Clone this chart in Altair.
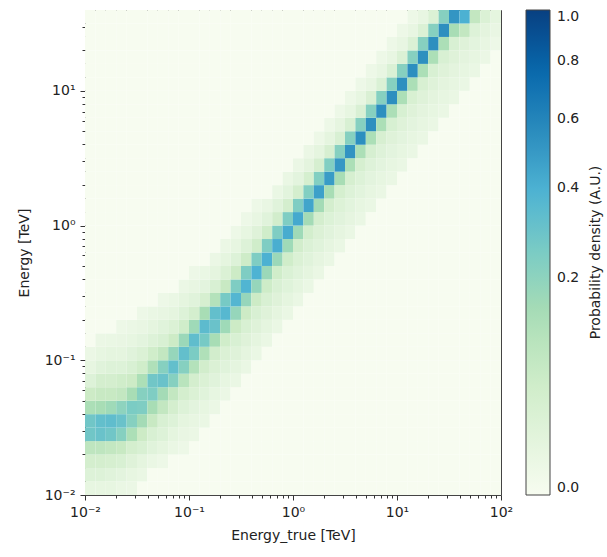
import altair as alt
import numpy as np
import pandas as pd

# ---------------- data ----------------
# bin edges (TeV): true energy 0.01-100 TeV, reco energy 0.01-39.8 TeV, 10 bins / decade
energy_true_edges = np.logspace(-2, 2, 41)
energy_edges = np.logspace(-2, 1.6, 37)

# per true-energy bin: index of first non-empty reco bin, then probabilities (%) of consecutive reco bins
col_start = [0, 0, 0, 0, 0, 1, 2, 2, 3, 3,
             4, 5, 6, 7, 8, 9, 10, 11, 12, 13,
             14, 15, 16, 17, 18, 19, 20, 21, 22, 23,
             24, 25, 26, 27, 28, 29, 30, 31, 32, 33]
col_values = [
    [0.8, 2, 4, 9, 28, 28, 13, 6, 2, 0.8, 0.4],
    [0.8, 2, 4, 9, 30, 32, 14, 7, 4, 1.5, 0.8, 0.4],
    [0.8, 1.5, 3.5, 8, 28, 33, 16, 7, 4, 2, 1, 0.5],
    [0.5, 1.2, 3, 7, 22, 30, 20, 8, 5, 2, 1, 0.6, 0.3],
    [0.4, 0.8, 1.8, 4, 13, 22, 25, 14, 6, 3, 1.5, 0.8, 0.4],
    [0.5, 1, 3, 6, 15, 24, 22, 13, 5, 2.5, 1.2, 0.6, 0.3],
    [0.5, 1.5, 3, 7, 14, 24, 28, 12, 5, 2, 1, 0.5],
    [0.3, 1, 2, 3, 8, 15, 30, 22, 8, 3, 1.5, 0.7, 0.3],
    [0.5, 1, 2, 4, 8, 22, 32, 18, 6, 2.5, 1, 0.5],
    [0.3, 0.6, 1, 2, 4, 10, 22, 32, 17, 5, 2, 1, 0.4],
    [0.4, 0.7, 1.2, 2.5, 4, 11, 25, 33, 16, 4, 1.5, 0.7, 0.3],
    [0.5, 0.8, 1.5, 2.5, 4.5, 12, 26, 34, 14, 3.5, 1.2, 0.5],
    [0.4, 0.8, 1.5, 2.5, 4.5, 14, 30, 32, 11, 3, 1, 0.4],
    [0.4, 0.8, 1.5, 2.5, 5, 16, 36, 26, 7, 2.5, 1, 0.4],
    [0.5, 1, 1.8, 3, 6, 18, 37, 24, 6, 2, 0.8, 0.3],
    [0.5, 1, 1.8, 3, 6, 18, 38, 24, 5.5, 2, 0.8, 0.3],
    [0.5, 1, 1.8, 3, 6, 18, 39, 24, 5, 1.8, 0.7, 0.3],
    [0.5, 1, 1.8, 3, 5.5, 17, 40, 24, 5, 1.6, 0.6],
    [0.5, 1, 1.8, 2.8, 5, 17, 41, 24, 4.5, 1.5, 0.5],
    [0.5, 1, 1.7, 2.6, 5, 16, 42, 24, 4, 1.3, 0.5],
    [0.5, 1, 1.6, 2.5, 4.5, 16, 43, 24, 4, 1.2, 0.4],
    [0.5, 1, 1.5, 2.4, 4.3, 15, 45, 23, 3.7, 1.1, 0.4],
    [0.5, 0.9, 1.5, 2.3, 4, 15, 47, 23, 3.5, 1, 0.3],
    [0.5, 0.9, 1.4, 2.2, 4, 14, 49, 23, 3.3, 1, 0.3],
    [0.5, 0.9, 1.4, 2.1, 3.8, 14, 51, 22, 3, 0.9, 0.3],
    [0.5, 0.9, 1.3, 2, 3.6, 13, 53, 22, 3, 0.8, 0.3],
    [0.5, 0.8, 1.3, 2, 3.5, 13, 55, 22, 2.8, 0.8, 0.3],
    [0.5, 0.8, 1.2, 1.9, 3.4, 13, 55, 22, 2.7, 0.7, 0.3],
    [0.5, 0.8, 1.2, 1.9, 3.3, 13, 55, 22, 2.6, 0.7, 0.3],
    [0.5, 0.8, 1.2, 1.8, 3.2, 13, 55, 22, 2.6, 0.7, 0.3],
    [0.5, 0.8, 1.2, 1.8, 3.2, 13, 55, 22, 2.5, 0.7, 0.3],
    [0.5, 0.8, 1.2, 1.8, 3.1, 13, 55, 22, 2.5, 0.7, 0.3],
    [0.5, 0.8, 1.1, 1.8, 3.1, 13, 55, 22, 2.5, 0.7],
    [0.5, 0.8, 1.1, 1.8, 3, 13, 55, 22, 2.5],
    [0.5, 0.8, 1.1, 1.8, 3, 13, 55, 22],
    [0.5, 0.8, 1.1, 1.8, 3, 14, 52],
    [0.5, 0.8, 1.1, 1.8, 8, 40],
    [0.5, 0.8, 1.2, 2, 8],
    [0.4, 0.7, 1.1, 2.5],
    [0.3, 0.6, 1],
]

x_ticks = [round(m * d, 6) for d in [0.01, 0.1, 1, 10] for m in range(1, 10)] + [100]
y_ticks = [round(m * d, 6) for d in [0.01, 0.1, 1] for m in range(1, 10)] + [10, 20, 30]
cbar_ticks = [0.0, 0.2, 0.4, 0.6, 0.8, 1.0]
x_title = "Energy_true [TeV]"
y_title = "Energy [TeV]"
cbar_title = "Probability density (A.U.)"

# ---------------- table ----------------
rows = []
for i in range(len(energy_true_edges) - 1):
    for j in range(len(energy_edges) - 1):
        k = j - col_start[i]
        v = col_values[i][k] / 100.0 if 0 <= k < len(col_values[i]) else 0.0
        rows.append({"x0": energy_true_edges[i], "x1": energy_true_edges[i + 1],
                     "y0": energy_edges[j], "y1": energy_edges[j + 1], "v": v})
df = pd.DataFrame(rows)

# ---------------- styling ----------------
FONT = "DejaVu Sans"
GNBU = ["#f7fcf0", "#e0f3db", "#ccebc5", "#a8ddb5", "#7bccc4",
        "#4eb3d3", "#2b8cbe", "#0868ac", "#084081"]
gnbu_domain = [(k / 8.0) ** 2 for k in range(9)]   # PowerNorm(gamma=0.5)
cscale = alt.Scale(type="sqrt", domain=gnbu_domain, range=GNBU, interpolate="rgb")

label_expr = ("datum.value === 0.01 ? '10⁻²' : datum.value === 0.1 ? '10⁻¹' : "
              "datum.value === 1 ? '10⁰' : datum.value === 10 ? '10¹' : "
              "datum.value === 100 ? '10²' : ''")
major_test = "indexof([0.01, 0.1, 1, 10, 100], datum.value) >= 0"
tick_size = {"condition": {"test": major_test, "value": 5}, "value": 3}

xaxis = alt.Axis(values=x_ticks, labelExpr=label_expr, tickSize=tick_size,
                 labelOverlap=False, labelFlush=False, title=x_title,
                 labelPadding=5, titlePadding=9, grid=False, domain=False)
yaxis = alt.Axis(values=y_ticks, labelExpr=label_expr, tickSize=tick_size,
                 labelOverlap=False, labelFlush=False, title=y_title,
                 labelPadding=5, titlePadding=13, grid=False, domain=False)

legend = alt.Legend(type="gradient", orient="none", legendX=441, legendY=0,
                    direction="vertical", gradientLength=485, gradientThickness=24,
                    values=cbar_ticks, format=".1f", labelFont=FONT, labelFontSize=14,
                    labelColor="#222", labelOffset=7, labelBaseline="middle",
                    labelOverlap=False, gradientStrokeColor="#444",
                    gradientStrokeWidth=1, title=None)

heat = alt.Chart(df).mark_rect().encode(
    x=alt.X("x0:Q", scale=alt.Scale(type="log", domain=[0.01, 100], nice=False), axis=xaxis),
    x2="x1:Q",
    y=alt.Y("y0:Q", scale=alt.Scale(type="log", domain=[0.01, float(energy_edges[-1])], nice=False), axis=yaxis),
    y2="y1:Q",
    color=alt.Color("v:Q", scale=cscale, legend=legend),
)

cbar_label = alt.Chart(pd.DataFrame({"t": [cbar_title]})).mark_text(
    angle=270, font=FONT, fontSize=14, color="#222", align="center", baseline="middle"
).encode(x=alt.value(511), y=alt.value(242.5), text="t:N")

chart = alt.layer(heat, cbar_label).properties(
    width=416, height=485,
    autosize=alt.AutoSizeParams(type="none"),
    padding={"left": 85, "top": 10, "right": 106, "bottom": 62},
    background="white",
).configure_view(
    stroke="#444", strokeWidth=1
).configure_axis(
    labelFont=FONT, labelFontSize=14, labelColor="#222",
    titleFont=FONT, titleFontSize=14, titleFontWeight="normal", titleColor="#222",
    tickColor="#333", tickWidth=1,
)

chart.save("out.html", embed_options={"renderer": "svg", "actions": False})
